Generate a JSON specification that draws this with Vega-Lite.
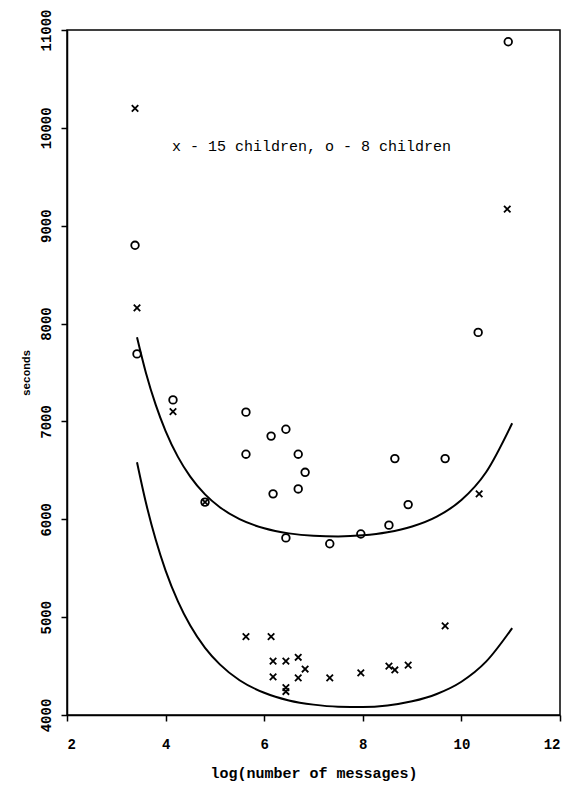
{
  "$schema": "https://vega.github.io/schema/vega-lite/v6.json",
  "autosize": "none",
  "width": 493,
  "height": 685,
  "padding": {"left": 67, "top": 30, "right": 14, "bottom": 70},
  "background": "white",
  "config": {
    "view": {"stroke": "black", "strokeWidth": 1.5},
    "font": "Liberation Mono"
  },
  "datasets": {
    "points": [
      {"logm": 3.38, "seconds": 10200, "group": "15 children"},
      {"logm": 3.42, "seconds": 8160, "group": "15 children"},
      {"logm": 4.15, "seconds": 7100, "group": "15 children"},
      {"logm": 4.80, "seconds": 6175, "group": "15 children"},
      {"logm": 5.63, "seconds": 4800, "group": "15 children"},
      {"logm": 6.14, "seconds": 4800, "group": "15 children"},
      {"logm": 6.18, "seconds": 4550, "group": "15 children"},
      {"logm": 6.44, "seconds": 4550, "group": "15 children"},
      {"logm": 6.69, "seconds": 4590, "group": "15 children"},
      {"logm": 6.18, "seconds": 4390, "group": "15 children"},
      {"logm": 6.69, "seconds": 4380, "group": "15 children"},
      {"logm": 6.83, "seconds": 4470, "group": "15 children"},
      {"logm": 6.44, "seconds": 4280, "group": "15 children"},
      {"logm": 6.44, "seconds": 4240, "group": "15 children"},
      {"logm": 7.33, "seconds": 4380, "group": "15 children"},
      {"logm": 7.96, "seconds": 4430, "group": "15 children"},
      {"logm": 8.53, "seconds": 4500, "group": "15 children"},
      {"logm": 8.65, "seconds": 4460, "group": "15 children"},
      {"logm": 8.92, "seconds": 4510, "group": "15 children"},
      {"logm": 9.67, "seconds": 4910, "group": "15 children"},
      {"logm": 10.36, "seconds": 6260, "group": "15 children"},
      {"logm": 10.93, "seconds": 9170, "group": "15 children"},
      {"logm": 3.38, "seconds": 8800, "group": "8 children"},
      {"logm": 3.42, "seconds": 7690, "group": "8 children"},
      {"logm": 4.15, "seconds": 7220, "group": "8 children"},
      {"logm": 4.80, "seconds": 6175, "group": "8 children"},
      {"logm": 5.63, "seconds": 7095, "group": "8 children"},
      {"logm": 5.63, "seconds": 6665, "group": "8 children"},
      {"logm": 6.14, "seconds": 6850, "group": "8 children"},
      {"logm": 6.44, "seconds": 6920, "group": "8 children"},
      {"logm": 6.69, "seconds": 6665, "group": "8 children"},
      {"logm": 6.83, "seconds": 6480, "group": "8 children"},
      {"logm": 6.69, "seconds": 6310, "group": "8 children"},
      {"logm": 6.18, "seconds": 6260, "group": "8 children"},
      {"logm": 6.44, "seconds": 5810, "group": "8 children"},
      {"logm": 7.33, "seconds": 5750, "group": "8 children"},
      {"logm": 7.96, "seconds": 5850, "group": "8 children"},
      {"logm": 8.53, "seconds": 5940, "group": "8 children"},
      {"logm": 8.92, "seconds": 6150, "group": "8 children"},
      {"logm": 8.65, "seconds": 6620, "group": "8 children"},
      {"logm": 9.67, "seconds": 6620, "group": "8 children"},
      {"logm": 10.34, "seconds": 7910, "group": "8 children"},
      {"logm": 10.95, "seconds": 10880, "group": "8 children"}
    ],
    "curves": [
      {"logm": 3.42, "seconds": 7860, "curve": "8 children"},
      {"logm": 3.6, "seconds": 7498, "curve": "8 children"},
      {"logm": 3.8, "seconds": 7169, "curve": "8 children"},
      {"logm": 4.0, "seconds": 6902, "curve": "8 children"},
      {"logm": 4.25, "seconds": 6638, "curve": "8 children"},
      {"logm": 4.5, "seconds": 6436, "curve": "8 children"},
      {"logm": 4.8, "seconds": 6254, "curve": "8 children"},
      {"logm": 5.1, "seconds": 6123, "curve": "8 children"},
      {"logm": 5.5, "seconds": 6001, "curve": "8 children"},
      {"logm": 6.0, "seconds": 5908, "curve": "8 children"},
      {"logm": 6.5, "seconds": 5856, "curve": "8 children"},
      {"logm": 7.0, "seconds": 5831, "curve": "8 children"},
      {"logm": 7.5, "seconds": 5825, "curve": "8 children"},
      {"logm": 8.0, "seconds": 5836, "curve": "8 children"},
      {"logm": 8.5, "seconds": 5867, "curve": "8 children"},
      {"logm": 9.0, "seconds": 5926, "curve": "8 children"},
      {"logm": 9.5, "seconds": 6027, "curve": "8 children"},
      {"logm": 10.0, "seconds": 6196, "curve": "8 children"},
      {"logm": 10.5, "seconds": 6480, "curve": "8 children"},
      {"logm": 11.03, "seconds": 6981, "curve": "8 children"},
      {"logm": 3.42, "seconds": 6583, "curve": "15 children"},
      {"logm": 3.6, "seconds": 6171, "curve": "15 children"},
      {"logm": 3.8, "seconds": 5790, "curve": "15 children"},
      {"logm": 4.0, "seconds": 5476, "curve": "15 children"},
      {"logm": 4.25, "seconds": 5161, "curve": "15 children"},
      {"logm": 4.5, "seconds": 4914, "curve": "15 children"},
      {"logm": 4.8, "seconds": 4686, "curve": "15 children"},
      {"logm": 5.1, "seconds": 4517, "curve": "15 children"},
      {"logm": 5.5, "seconds": 4355, "curve": "15 children"},
      {"logm": 6.0, "seconds": 4227, "curve": "15 children"},
      {"logm": 6.5, "seconds": 4149, "curve": "15 children"},
      {"logm": 7.0, "seconds": 4106, "curve": "15 children"},
      {"logm": 7.5, "seconds": 4085, "curve": "15 children"},
      {"logm": 8.0, "seconds": 4082, "curve": "15 children"},
      {"logm": 8.5, "seconds": 4098, "curve": "15 children"},
      {"logm": 9.0, "seconds": 4140, "curve": "15 children"},
      {"logm": 9.5, "seconds": 4215, "curve": "15 children"},
      {"logm": 10.0, "seconds": 4340, "curve": "15 children"},
      {"logm": 10.5, "seconds": 4545, "curve": "15 children"},
      {"logm": 11.03, "seconds": 4888, "curve": "15 children"}
    ],
    "note": [
      {"logm": 4.13, "seconds": 9810, "label": "x - 15 children, o - 8 children"}
    ]
  },
  "layer": [
    {
      "data": {"name": "curves"},
      "mark": {"type": "line", "color": "black", "strokeWidth": 2, "interpolate": "monotone"},
      "encoding": {
        "x": {
          "field": "logm", "type": "quantitative",
          "scale": {"domain": [2, 12], "nice": false, "zero": false},
          "axis": {
            "title": "log(number of messages)",
            "values": [2, 4, 6, 8, 10, 12],
            "domainColor": "black", "domainWidth": 1.5,
            "ticks": true, "tickSize": 6, "tickColor": "black", "tickWidth": 1.5,
            "grid": false,
            "labelFont": "Liberation Mono", "labelFontSize": 14, "labelFontWeight": "bold",
            "labelColor": "black", "labelPadding": 16,
            "titleFont": "Liberation Mono", "titleFontSize": 15, "titleFontWeight": "bold",
            "titleColor": "black", "titlePadding": 14
          }
        },
        "y": {
          "field": "seconds", "type": "quantitative",
          "scale": {"domain": [4000, 11000], "nice": false, "zero": false},
          "axis": {
            "title": "seconds",
            "values": [4000, 5000, 6000, 7000, 8000, 9000, 10000, 11000],
            "format": "d",
            "domainColor": "black", "domainWidth": 1.5,
            "ticks": true, "tickSize": 6, "tickColor": "black", "tickWidth": 1.5,
            "grid": false,
            "labelAngle": -90, "labelAlign": "center", "labelBaseline": "bottom",
            "labelFont": "Liberation Mono", "labelFontSize": 14, "labelFontWeight": "bold",
            "labelColor": "black", "labelPadding": 8,
            "titleFont": "Liberation Mono", "titleFontSize": 11, "titleFontWeight": "bold",
            "titleColor": "black", "titlePadding": 8
          }
        },
        "detail": {"field": "curve"}
      }
    },
    {
      "data": {"name": "points"},
      "mark": {"type": "point", "filled": false, "stroke": "black", "strokeWidth": 1.8, "size": 58, "opacity": 1},
      "encoding": {
        "x": {"field": "logm", "type": "quantitative"},
        "y": {"field": "seconds", "type": "quantitative"},
        "shape": {
          "field": "group", "type": "nominal",
          "scale": {"domain": ["15 children", "8 children"], "range": ["M-0.85,-0.85L0.85,0.85M0.85,-0.85L-0.85,0.85", "circle"]},
          "legend": null
        }
      }
    },
    {
      "data": {"name": "note"},
      "mark": {"type": "text", "align": "left", "baseline": "middle", "font": "Liberation Mono", "fontSize": 15, "color": "black"},
      "encoding": {
        "x": {"field": "logm", "type": "quantitative"},
        "y": {"field": "seconds", "type": "quantitative"},
        "text": {"field": "label"}
      }
    }
  ]
}
